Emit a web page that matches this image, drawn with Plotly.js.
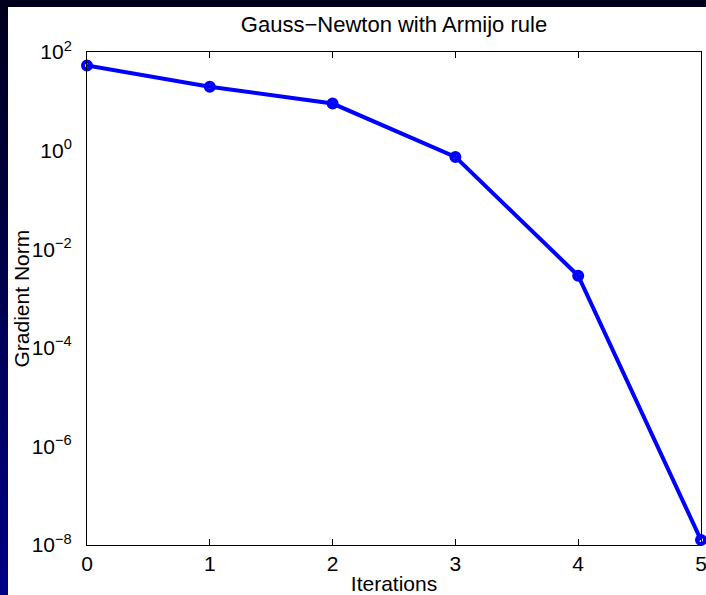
<!DOCTYPE html>
<html>
<head>
<meta charset="utf-8">
<script src="https://cdn.plot.ly/plotly-3.0.1.min.js"></script>
<style>
  html, body { margin: 0; padding: 0; width: 706px; height: 595px; overflow: hidden;
    background: linear-gradient(to bottom, #00001c 0%, #000050 50%, #000088 100%); }
  #chart { position: absolute; left: 8px; top: 7px; width: 698px; height: 588px; background: #fff; }
</style>
</head>
<body>
<div id="chart"></div>
<script>
// Data
const iterations = [0, 1, 2, 3, 4, 5];
const gradientNorm = [53, 19.8, 9.0, 0.745, 0.0029, 1.26e-8];

// Y tick values (log axis) and labels
const yTickVals = [1e-8, 1e-6, 1e-4, 1e-2, 1e0, 1e2];
const yTickText = ['10<sup>\u22128</sup>', '10<sup>\u22126</sup>', '10<sup>\u22124</sup>',
                   '10<sup>\u22122</sup>', '10<sup>0</sup>', '10<sup>2</sup>'];
const xTickVals = [0, 1, 2, 3, 4, 5];

const font = 'Liberation Sans, Arial, Helvetica, sans-serif';

const trace = {
  x: iterations,
  y: gradientNorm,
  type: 'scatter',
  mode: 'lines+markers',
  line: { color: '#0000ff', width: 4 },
  marker: { symbol: 'circle-open', size: 8, color: '#0000ff', line: { color: '#0000ff', width: 4 } },
  cliponaxis: false,
  hoverinfo: 'skip'
};

const layout = {
  width: 698,
  height: 588,
  paper_bgcolor: '#ffffff',
  plot_bgcolor: '#ffffff',
  margin: { l: 79, r: 5, t: 45, b: 50 },
  showlegend: false,
  font: { family: font, size: 21, color: '#000' },
  title: {
    text: 'Gauss\u2212Newton with Armijo rule',
    font: { family: font, size: 22, color: '#000' },
    x: 0.5, xref: 'paper',
    y: 0.97, yref: 'container', yanchor: 'middle'
  },
  xaxis: {
    range: [0, 5],
    tickvals: xTickVals,
    ticks: 'inside', ticklen: 6, tickwidth: 1, tickcolor: '#000',
    showline: true, linecolor: '#000', linewidth: 1, mirror: 'ticks',
    showgrid: false, zeroline: false,
    ticklabeloverflow: 'allow',
    tickfont: { family: font, size: 21, color: '#000' },
    title: { text: 'Iterations', font: { family: font, size: 21, color: '#000' }, standoff: 2 }
  },
  // labelled axis: invisible outside ticks push the labels away from the frame
  yaxis: {
    type: 'log',
    range: [-8, 2],
    tickvals: yTickVals,
    ticktext: yTickText,
    ticks: 'outside', ticklen: 10, tickwidth: 1, tickcolor: 'rgba(0,0,0,0)',
    showline: true, linecolor: '#000', linewidth: 1, mirror: true,
    showgrid: false, zeroline: false,
    ticklabeloverflow: 'allow',
    tickfont: { family: font, size: 21, color: '#000' }
  },
  // overlay axis: draws the visible inside ticks on left and right
  yaxis2: {
    type: 'log',
    range: [-8, 2],
    overlaying: 'y',
    anchor: 'x',
    side: 'left',
    tickvals: yTickVals,
    showticklabels: false,
    ticks: 'inside', ticklen: 6, tickwidth: 1, tickcolor: '#000',
    showline: false, mirror: 'ticks',
    showgrid: false, zeroline: false
  },
  annotations: [{
    text: 'Gradient Norm',
    xref: 'paper', yref: 'paper',
    x: -0.1059, y: 0.5,
    xanchor: 'center', yanchor: 'middle',
    textangle: -90,
    showarrow: false,
    font: { family: font, size: 21, color: '#000' }
  }]
};

Plotly.newPlot('chart', [trace], layout, { displayModeBar: false, staticPlot: true });
</script>
</body>
</html>
